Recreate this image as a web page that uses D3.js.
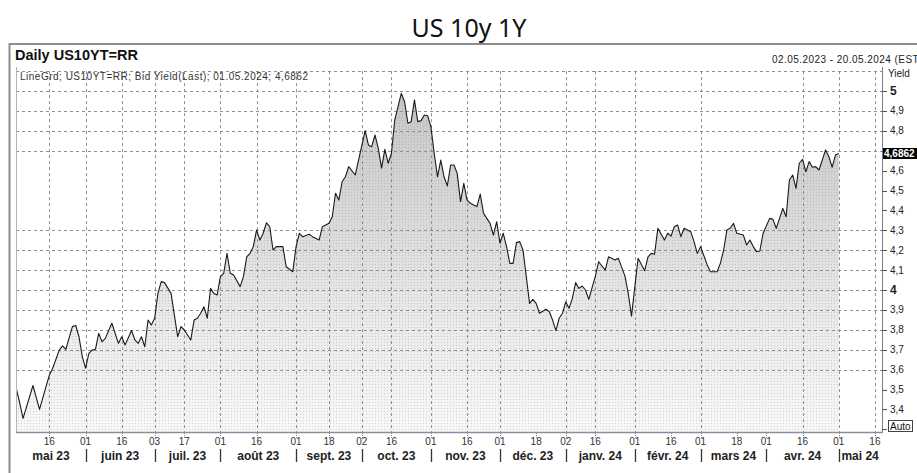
<!DOCTYPE html>
<html>
<head>
<meta charset="utf-8">
<script src="https://cdn.jsdelivr.net/npm/d3@7.9.0/dist/d3.min.js"></script>
<style>
  body { margin: 0; background: #fff; }
  svg { display: block; font-family: "Liberation Sans", Arial, sans-serif; }
</style>
</head>
<body>
<svg id="chart" width="917" height="473"></svg>
<script>
// trading calendar (bond market holidays are skipped on the axis)
const holidays = ['2023-05-29', '2023-06-19', '2023-07-04', '2023-09-04', '2023-10-09', '2023-11-23',
    '2023-12-25', '2024-01-01', '2024-01-15', '2024-02-19', '2024-03-29'];
const firstDay = '2023-05-02';
const lastDay = '2024-05-20';

// US10YT=RR bid yield
const dates = [
    '2023-05-02', '2023-05-03', '2023-05-04', '2023-05-09', '2023-05-11', '2023-05-16', '2023-05-17', '2023-05-19',
    '2023-05-22', '2023-05-23', '2023-05-25', '2023-05-26', '2023-05-30', '2023-05-31', '2023-06-01', '2023-06-02',
    '2023-06-05', '2023-06-06', '2023-06-07', '2023-06-08', '2023-06-09', '2023-06-13', '2023-06-14', '2023-06-15',
    '2023-06-16', '2023-06-20', '2023-06-22', '2023-06-23', '2023-06-26', '2023-06-27', '2023-06-28', '2023-06-29',
    '2023-06-30', '2023-07-03', '2023-07-05', '2023-07-06', '2023-07-07', '2023-07-11', '2023-07-13', '2023-07-14',
    '2023-07-17', '2023-07-19', '2023-07-20', '2023-07-21', '2023-07-24', '2023-07-25', '2023-07-26', '2023-07-27',
    '2023-07-28', '2023-07-31', '2023-08-01', '2023-08-02', '2023-08-03', '2023-08-04', '2023-08-07', '2023-08-09',
    '2023-08-10', '2023-08-11', '2023-08-14', '2023-08-15', '2023-08-16', '2023-08-17', '2023-08-18', '2023-08-21',
    '2023-08-22', '2023-08-23', '2023-08-24', '2023-08-28', '2023-08-29', '2023-08-31', '2023-09-01', '2023-09-05',
    '2023-09-06', '2023-09-08', '2023-09-11', '2023-09-13', '2023-09-14', '2023-09-18', '2023-09-19', '2023-09-20',
    '2023-09-21', '2023-09-22', '2023-09-25', '2023-09-26', '2023-09-28', '2023-10-03', '2023-10-04', '2023-10-05',
    '2023-10-06', '2023-10-10', '2023-10-11', '2023-10-12', '2023-10-13', '2023-10-16', '2023-10-17', '2023-10-18',
    '2023-10-19', '2023-10-20', '2023-10-23', '2023-10-24', '2023-10-25', '2023-10-26', '2023-10-27', '2023-10-30',
    '2023-10-31', '2023-11-01', '2023-11-02', '2023-11-03', '2023-11-06', '2023-11-07', '2023-11-08', '2023-11-09',
    '2023-11-10', '2023-11-13', '2023-11-14', '2023-11-15', '2023-11-16', '2023-11-17', '2023-11-20', '2023-11-21',
    '2023-11-22', '2023-11-24', '2023-11-28', '2023-11-29', '2023-11-30', '2023-12-01', '2023-12-04', '2023-12-05',
    '2023-12-06', '2023-12-07', '2023-12-08', '2023-12-11', '2023-12-12', '2023-12-14', '2023-12-15', '2023-12-18',
    '2023-12-19', '2023-12-21', '2023-12-22', '2023-12-26', '2023-12-27', '2023-12-28', '2023-12-29', '2024-01-02',
    '2024-01-03', '2024-01-04', '2024-01-05', '2024-01-08', '2024-01-09', '2024-01-10', '2024-01-11', '2024-01-16',
    '2024-01-17', '2024-01-19', '2024-01-22', '2024-01-24', '2024-01-25', '2024-01-29', '2024-01-30', '2024-01-31',
    '2024-02-01', '2024-02-02', '2024-02-06', '2024-02-07', '2024-02-08', '2024-02-09', '2024-02-12', '2024-02-14',
    '2024-02-15', '2024-02-16', '2024-02-20', '2024-02-21', '2024-02-22', '2024-02-23', '2024-02-27', '2024-02-28',
    '2024-02-29', '2024-03-01', '2024-03-05', '2024-03-06', '2024-03-08', '2024-03-11', '2024-03-12', '2024-03-13',
    '2024-03-14', '2024-03-15', '2024-03-18', '2024-03-20', '2024-03-21', '2024-03-22', '2024-03-25', '2024-03-26',
    '2024-03-27', '2024-03-28', '2024-04-02', '2024-04-03', '2024-04-04', '2024-04-08', '2024-04-09', '2024-04-10',
    '2024-04-11', '2024-04-12', '2024-04-15', '2024-04-16', '2024-04-17', '2024-04-18', '2024-04-19', '2024-04-22',
    '2024-04-23', '2024-04-25', '2024-04-26', '2024-04-29', '2024-04-30', '2024-05-01'
];
const yields = [
    3.50, 3.43, 3.355, 3.52, 3.40, 3.573, 3.607, 3.698,
    3.719, 3.702, 3.816, 3.822, 3.765, 3.665, 3.607, 3.682,
    3.698, 3.702, 3.782, 3.74, 3.757, 3.833, 3.782, 3.732,
    3.765, 3.724, 3.796, 3.749, 3.732, 3.765, 3.715, 3.849,
    3.824, 3.858, 3.983, 4.042, 4.037, 3.983, 3.765, 3.816,
    3.799, 3.749, 3.849, 3.858, 3.883, 3.916, 3.858, 4.008,
    3.983, 3.975, 4.067, 4.084, 4.184, 4.084, 4.075, 4.017,
    4.067, 4.167, 4.184, 4.218, 4.302, 4.251, 4.285, 4.338,
    4.318, 4.201, 4.218, 4.218, 4.117, 4.092, 4.218, 4.285,
    4.268, 4.28, 4.268, 4.251, 4.318, 4.335, 4.368, 4.486,
    4.452, 4.544, 4.569, 4.62, 4.578, 4.801, 4.729, 4.72,
    4.779, 4.712, 4.612, 4.707, 4.637, 4.687, 4.854, 4.921,
    4.988, 4.946, 4.838, 4.846, 4.955, 4.846, 4.851, 4.879,
    4.876, 4.821, 4.687, 4.569, 4.653, 4.569, 4.523, 4.628,
    4.628, 4.586, 4.444, 4.536, 4.452, 4.436, 4.427, 4.419,
    4.482, 4.385, 4.335, 4.276, 4.343, 4.235, 4.285, 4.218,
    4.134, 4.134, 4.238, 4.243, 4.201, 3.933, 3.953, 3.933,
    3.883, 3.903, 3.891, 3.849, 3.796, 3.858, 3.883, 3.941,
    3.908, 3.958, 4.037, 4.008, 4.02, 4.0, 3.953, 4.07,
    4.142, 4.1, 4.167, 4.151, 4.159, 4.07, 3.983, 3.869,
    4.017, 4.159, 4.097, 4.167, 4.184, 4.18, 4.31, 4.251,
    4.285, 4.271, 4.318, 4.327, 4.268, 4.31, 4.293, 4.243,
    4.184, 4.218, 4.126, 4.092, 4.092, 4.134, 4.201, 4.302,
    4.31, 4.335, 4.285, 4.276, 4.226, 4.251, 4.218, 4.193,
    4.196, 4.285, 4.36, 4.355, 4.31, 4.41, 4.368, 4.553,
    4.578, 4.511, 4.637, 4.657, 4.594, 4.645, 4.617, 4.62,
    4.603, 4.704, 4.67, 4.617, 4.678, 4.6862
];

const tickDates = ['2023-05-16', '2023-06-01', '2023-06-16', '2023-07-03', '2023-07-17', '2023-08-01',
    '2023-08-16', '2023-09-01', '2023-09-18', '2023-10-02', '2023-10-16', '2023-11-01', '2023-11-16',
    '2023-12-01', '2023-12-18', '2024-01-02', '2024-01-16', '2024-02-01', '2024-02-16', '2024-03-01',
    '2024-03-18', '2024-04-01', '2024-04-16', '2024-05-01', '2024-05-16'];
// ticks that carry no vertical gridline in the original
const noGridDates = ['2023-12-18', '2024-02-16', '2024-03-18', '2024-04-01'];
const monthLabels = ['mai 23', 'juin 23', 'juil. 23', 'août 23', 'sept. 23', 'oct. 23', 'nov. 23',
    'déc. 23', 'janv. 24', 'févr. 24', 'mars 24', 'avr. 24', 'mai 24'];

const yTicks = [3.3, 3.4, 3.5, 3.6, 3.7, 3.8, 3.9, 4.0, 4.1, 4.2, 4.3, 4.4, 4.5, 4.6, 4.7, 4.8, 4.9, 5.0];
const yGrid = [5.1, 5.0, 4.9, 4.8, 4.7, 4.3, 4.2, 4.1, 4.0, 3.9, 3.8, 3.7, 3.6];
const lastValue = 4.6862;

const svg = d3.select('#chart');
const fmtDay = d3.timeFormat('%Y-%m-%d');
const parse = d3.timeParse('%Y-%m-%d');

const days = d3.timeDay.range(parse(firstDay), d3.timeDay.offset(parse(lastDay), 1))
    .filter((d) => d.getDay() !== 0 && d.getDay() !== 6)
    .map(fmtDay)
    .filter((d) => !holidays.includes(d));
const dayIndex = new Map(days.map((d, i) => [d, i]));

const plot = { left: 16, right: 882, top: 67, bottom: 432 };

const x = d3.scaleLinear()
    .domain([0, days.length - 1])
    .range([plot.left + 0.5, plot.right - 0.5]);

const y = d3.scaleLinear()
    .domain([3.4, 5.0])
    .range([409.4, 91]);

const series = dates.map((d, i) => ({ i: dayIndex.get(d), v: yields[i] }));

// title
svg.append('text')
    .attr('x', 469).attr('y', 36.5)
    .attr('text-anchor', 'middle')
    .style('font-family', '"Noto Sans", "Open Sans", sans-serif')
    .style('font-size', '25px')
    .attr('fill', '#111')
    .text('US 10y 1Y');

// outer panel frame
svg.append('path')
    .attr('d', 'M9.5,473 V44 H917')
    .attr('fill', 'none')
    .attr('stroke', '#8c8c8c')
    .attr('stroke-width', 2);

svg.append('text')
    .attr('x', 15).attr('y', 60)
    .style('font-size', '14.5px').style('font-weight', 'bold')
    .attr('fill', '#111')
    .text('Daily US10YT=RR');

svg.append('text')
    .attr('x', 772).attr('y', 63)
    .style('font-size', '10px')
    .style('letter-spacing', '0.45px')
    .attr('fill', '#222')
    .text('02.05.2023 - 20.05.2024 (EST)');

// fill definitions
const defs = svg.append('defs');
const grad = defs.append('linearGradient')
    .attr('id', 'areaGrad')
    .attr('gradientUnits', 'userSpaceOnUse')
    .attr('x1', 0).attr('x2', 0)
    .attr('y1', y(5.0)).attr('y2', plot.bottom);
grad.append('stop').attr('offset', 0).attr('stop-color', '#c6c6c6');
grad.append('stop').attr('offset', 0.35).attr('stop-color', '#d8d8d8');
grad.append('stop').attr('offset', 0.65).attr('stop-color', '#e9e9e9');
grad.append('stop').attr('offset', 1).attr('stop-color', '#f8f8f8');

const pat = defs.append('pattern')
    .attr('id', 'dots')
    .attr('patternUnits', 'userSpaceOnUse')
    .attr('width', 3).attr('height', 3);
pat.append('rect').attr('width', 1).attr('height', 1).attr('fill', '#7a7a7a');

// area
const area = d3.area()
    .x((d) => x(d.i))
    .y0(plot.bottom)
    .y1((d) => y(d.v));

svg.append('path')
    .datum(series)
    .attr('d', area)
    .attr('fill', 'url(#areaGrad)');

svg.append('path')
    .datum(series)
    .attr('d', area)
    .attr('fill', 'url(#dots)')
    .attr('opacity', 0.3);

// gridlines (drawn over the fill, as in the original)
const gridColor = '#8e8e9a';
svg.append('g')
    .attr('class', 'grid-y')
    .selectAll('line')
    .data(yGrid)
    .join('line')
    .attr('x1', plot.left).attr('x2', plot.right)
    .attr('y1', (d) => Math.round(y(d)) + 0.5)
    .attr('y2', (d) => Math.round(y(d)) + 0.5)
    .attr('stroke', gridColor)
    .attr('stroke-width', 1)
    .attr('stroke-dasharray', '3,3');

svg.append('g')
    .attr('class', 'grid-x')
    .selectAll('line')
    .data(tickDates.filter((d) => !noGridDates.includes(d)))
    .join('line')
    .attr('x1', (d) => Math.round(x(dayIndex.get(d))) + 0.5)
    .attr('x2', (d) => Math.round(x(dayIndex.get(d))) + 0.5)
    .attr('y1', y(5.1)).attr('y2', plot.bottom)
    .attr('stroke', gridColor)
    .attr('stroke-width', 1)
    .attr('stroke-dasharray', '3,3');

svg.append('path')
    .datum(series)
    .attr('d', d3.line().x((d) => x(d.i)).y((d) => y(d.v)))
    .attr('fill', 'none')
    .attr('stroke', '#1a1a1a')
    .attr('stroke-width', 1.1)
    .attr('stroke-linejoin', 'round');

svg.append('text')
    .attr('x', 20).attr('y', 80)
    .style('font-size', '10px')
    .style('letter-spacing', '0.5px')
    .attr('fill', '#333')
    .text('LineGrd; US10YT=RR; Bid Yield(Last); 01.05.2024; 4,6862');

// plot frame
svg.append('line')
    .attr('x1', plot.left + 0.5).attr('x2', plot.left + 0.5)
    .attr('y1', plot.top).attr('y2', plot.bottom)
    .attr('stroke', '#b4b4b4');
svg.append('line')
    .attr('x1', plot.right + 0.5).attr('x2', plot.right + 0.5)
    .attr('y1', plot.top).attr('y2', plot.bottom)
    .attr('stroke', '#7c7c84');
svg.append('line')
    .attr('x1', plot.left).attr('x2', plot.right + 1)
    .attr('y1', plot.bottom + 0.5).attr('y2', plot.bottom + 0.5)
    .attr('stroke', '#8c8ca0')
    .attr('stroke-width', 1.5);

// right axis; the label under the last-value box is hidden, as in the original
const yAxis = svg.append('g');
yAxis.selectAll('line')
    .data(yTicks)
    .join('line')
    .attr('x1', plot.right).attr('x2', plot.right + 5)
    .attr('y1', (d) => Math.round(y(d)) + 0.5)
    .attr('y2', (d) => Math.round(y(d)) + 0.5)
    .attr('stroke', '#555');
yAxis.selectAll('text')
    .data(yTicks.filter((d) => d >= 3.4 && Math.abs(y(d) - y(lastValue)) > 8))
    .join('text')
    .attr('x', 890)
    .attr('y', (d) => y(d))
    .attr('dy', '0.35em')
    .style('font-size', (d) => (Number.isInteger(d) ? '12px' : '10px'))
    .style('font-weight', (d) => (Number.isInteger(d) ? 'bold' : 'normal'))
    .attr('fill', '#222')
    .text((d) => d3.format('.1~f')(d).replace('.', ','));

svg.append('text')
    .attr('x', 888).attr('y', 77)
    .style('font-size', '10px')
    .attr('fill', '#222')
    .text('Yield');

svg.append('rect')
    .attr('x', 883).attr('y', Math.round(y(lastValue)) - 5)
    .attr('width', 36).attr('height', 11)
    .attr('fill', '#000');
svg.append('text')
    .attr('x', 884).attr('y', y(lastValue))
    .attr('dy', '0.35em')
    .style('font-size', '10px').style('font-weight', 'bold')
    .attr('fill', '#fff')
    .text(d3.format('.4f')(lastValue).replace('.', ','));

svg.append('rect')
    .attr('x', 888.5).attr('y', 420.5)
    .attr('width', 24).attr('height', 11)
    .attr('fill', '#fff')
    .attr('stroke', '#444');
svg.append('text')
    .attr('x', 890).attr('y', 429.5)
    .style('font-size', '10px')
    .attr('fill', '#111')
    .text('Auto');

// bottom axis
const xAxis = svg.append('g');
xAxis.selectAll('line')
    .data(tickDates)
    .join('line')
    .attr('x1', (d) => Math.round(x(dayIndex.get(d))) + 0.5)
    .attr('x2', (d) => Math.round(x(dayIndex.get(d))) + 0.5)
    .attr('y1', plot.bottom + 1).attr('y2', plot.bottom + 6)
    .attr('stroke', '#888')
    .attr('stroke-dasharray', '1,1');
xAxis.selectAll('text')
    .data(tickDates)
    .join('text')
    .attr('x', (d) => x(dayIndex.get(d)))
    .attr('y', 445)
    .attr('text-anchor', 'middle')
    .style('font-size', '10px')
    .attr('fill', '#333')
    .text((d) => d.slice(8));

// month bands: start at the first trading day of each month
const monthStarts = d3.groups(days, (d) => d.slice(0, 7)).map(([, ds]) => dayIndex.get(ds[0]));
const lastDataIdx = days.length - 1;
const months = monthLabels.map((label, i) => ({
    label,
    from: i === 0 ? 0 : monthStarts[i],
    to: i + 1 < monthStarts.length ? monthStarts[i + 1] : lastDataIdx,
}));

svg.append('g')
    .selectAll('line')
    .data(monthStarts.slice(1))
    .join('line')
    .attr('x1', (d) => Math.round(x(d)) + 0.5)
    .attr('x2', (d) => Math.round(x(d)) + 0.5)
    .attr('y1', 449).attr('y2', 462)
    .attr('stroke', '#333')
    .attr('stroke-width', 1.3);

svg.append('g')
    .selectAll('text')
    .data(months)
    .join('text')
    .attr('x', (d) => (x(d.from) + x(d.to)) / 2)
    .attr('y', 460)
    .attr('text-anchor', 'middle')
    .style('font-size', '12px').style('font-weight', 'bold')
    .attr('fill', '#222')
    .text((d) => d.label);
</script>
</body>
</html>
